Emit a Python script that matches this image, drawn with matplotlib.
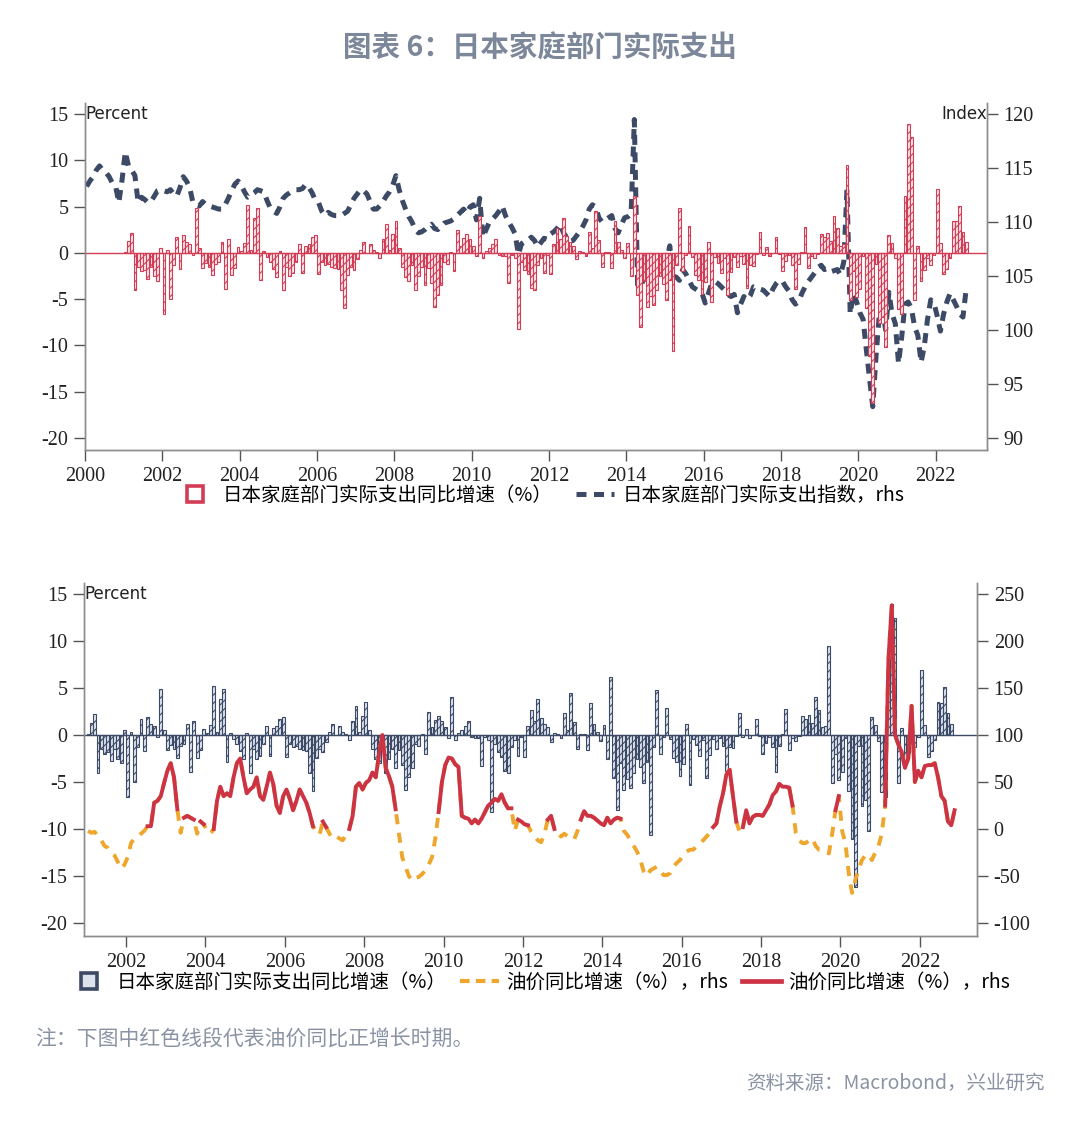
import numpy as np
import matplotlib.pyplot as plt
from matplotlib.lines import Line2D

plt.rcParams['font.family'] = ['Noto Sans CJK SC', 'DejaVu Sans']
plt.rcParams['axes.unicode_minus'] = False
plt.rcParams['hatch.linewidth'] = 0.8

# Household real spending, yoy %, monthly from 2001-01
spend_yoy = [
    0.1, 1.3, 2.2, -4.0, -1.5, -2.0, -1.8, -2.8, -1.5, -2.5, -3.0, 0.5,      # 2001
    -6.6, 0.3, -5.0, -1.3, 1.7, -1.7, 1.9, 1.2, 1.0, -0.2, 4.9, 0.5,         # 2002
    -1.6, -1.1, -1.5, -2.4, -1.2, -1.0, 1.2, -3.9, 1.5, -2.4, -1.6, 0.6,     # 2003
    0.2, 1.1, 5.2, 0.3, 3.8, 4.9, -2.9, 0.2, -0.4, -1.0, -1.7, -2.6,         # 2004
    0.2, -4.0, -1.5, -2.5, -2.2, -1.0, 1.0, -2.2, 0.7, 1.0, 1.7, 1.9,        # 2005
    -2.3, -1.0, -1.3, -1.2, -1.5, -1.6, -1.7, -4.0, -6.0, -2.4, -1.5, -1.8,  # 2006
    -0.7, 0.3, 1.2, 0.0, 1.0, 0.3, 0.1, -0.5, 1.5, 3.1, 0.3, 2.0,            # 2007
    3.5, 0.5, -1.5, -2.6, -3.0, -1.3, -4.0, -2.5, -1.5, -3.5, -1.6, -3.2,    # 2008
    -5.8, -4.5, -3.5, -1.0, -1.2, 0.1, -2.0, 2.5, 0.8, 1.6, 2.0, 1.5,        # 2009
    0.8, -0.3, 4.0, -0.5, 0.2, 0.5, 1.0, 1.5, -0.2, -0.3, -0.3, -3.3,        # 2010
    -0.2, -0.5, -8.2, -1.0, -1.8, -2.3, -3.8, -4.0, -1.3, -0.5, -2.2, -0.2,  # 2011
    -2.3, 1.0, 2.7, 1.5, 3.8, 1.8, 1.2, 0.8, -0.7, 0.2, 0.1, -0.3,           # 2012
    2.3, 0.5, 4.5, 1.4, -1.5, 0.1, 0.1, -1.6, 3.4, 1.2, 0.3, -0.6,           # 2013
    1.1, -2.5, 6.2, -4.6, -8.0, -3.0, -5.9, -4.7, -5.6, -4.0, -2.5, -3.4,    # 2014
    -5.1, -2.9, -10.6, -1.3, 4.8, -2.0, -0.2, 2.9, -0.4, -2.4, -2.9, -4.4,   # 2015
    -3.1, 1.2, -5.3, -0.4, -1.1, -2.2, -0.5, -4.6, -2.1, -0.4, -1.5, -0.3,   # 2016
    -1.2, -3.8, -1.3, -1.4, -0.1, 2.3, -0.2, 0.6, -0.3, 0.0, 1.7, -0.1,      # 2017
    -2.0, -0.9, -0.2, -1.3, -3.9, -1.2, 0.1, 2.8, -1.6, -0.3, -0.6, -0.1,    # 2018
    2.0, 1.7, 2.1, 1.3, 4.0, 2.7, 0.8, 1.0, 9.5, -5.1, -2.0, -4.8,           # 2019
    -3.9, -0.3, -6.0, -11.1, -16.2, -1.2, -7.6, -6.9, -10.2, 1.9, 1.1, -0.6, # 2020
    -6.1, -6.6, 6.2, 13.9, 12.5, -5.1, 0.7, -3.0, -1.9, -0.6, -1.3, -0.2,    # 2021
    6.9, 1.1, -2.3, -1.7, -0.5, 3.5, 3.4, 5.1, 2.3, 1.2,                     # 2022
]

# Household real spending index (rhs), monthly from 2000-01
spend_index = [
    113.3, 113.8, 114.2, 114.8, 115.2, 114.8, 114.6, 114.2, 113.6, 113.3, 111.8, 113.9,
    116.5, 115.2, 114.8, 114.3, 111.8, 112.3, 112.1, 111.8, 111.9, 112.4, 112.9, 113.0,
    112.9, 112.8, 113.0, 112.6, 112.4, 113.2, 114.2, 113.8, 113.2, 111.8, 111.6, 111.5,
    111.9, 111.6, 111.5, 111.4, 111.3, 111.2, 111.2, 111.6, 112.2, 112.9, 113.5, 113.8,
    113.4, 112.8, 112.3, 112.5, 112.7, 113.0, 112.9, 112.8, 112.0, 111.3, 111.0, 110.8,
    111.4, 112.2, 112.5, 112.7, 112.9, 113.0, 113.0, 113.1, 113.5, 113.2, 112.7, 112.0,
    111.8, 111.0, 110.6, 110.9, 110.7, 110.6, 110.6, 110.6, 110.8, 111.0, 111.6, 112.2,
    112.6, 113.0, 112.9, 112.6, 111.9, 111.2, 111.2, 111.5, 111.9, 112.4, 112.8, 113.4,
    114.3, 113.0, 112.0, 111.2, 110.5, 110.0, 109.3, 109.0, 109.1, 109.3, 109.6, 109.8,
    109.4, 109.3, 109.6, 109.9, 110.0, 110.1, 110.3, 110.6, 110.9, 111.2, 110.8, 111.4,
    111.6, 110.2, 112.2, 108.6, 109.3, 110.0, 110.3, 110.6, 111.0, 111.5, 110.6, 110.0,
    109.5, 108.9, 107.0, 108.0, 108.2, 108.3, 108.6, 108.3, 107.7, 108.1, 108.5, 108.4,
    108.9, 109.1, 109.4, 109.8, 109.0, 108.6, 108.2, 108.3, 108.7, 109.1, 109.6, 110.2,
    111.2, 111.6, 111.4, 110.4, 110.0, 110.2, 110.4, 110.6, 109.4, 109.0, 109.8, 110.4,
    110.5, 110.8, 119.5, 104.2, 104.0, 104.8, 105.3, 105.6, 106.3, 106.5, 106.2, 106.0,
    106.4, 107.8, 105.0, 104.9, 104.6, 105.6, 105.2, 104.6, 104.0, 103.8, 103.6, 103.4,
    102.5, 103.4, 104.3, 104.5, 104.3, 104.0, 103.7, 103.3, 103.1, 103.3, 101.6, 102.4,
    103.1, 102.8, 103.2, 104.0, 103.9, 103.8, 103.7, 103.4, 103.1, 103.8, 104.3, 104.6,
    104.5, 104.0, 103.6, 102.8, 102.4, 102.6, 103.4, 104.0, 104.5, 104.9, 105.3, 105.8,
    106.0, 105.6, 105.7, 105.4, 105.5, 105.6, 105.1, 106.3, 113.0, 101.5, 103.4, 102.6,
    101.6, 101.0, 98.2, 95.5, 92.9, 97.5, 101.3, 102.0, 100.0, 103.5, 101.5, 100.6,
    96.9, 99.4, 102.4, 102.6, 102.0, 100.3, 99.5, 97.0, 98.5, 101.0, 102.8, 102.5,
    101.3, 99.9, 101.5, 102.6, 103.4, 102.8, 102.2, 101.5, 101.2, 103.8,
]

# Oil price yoy %, monthly from 2001-01 (rhs of lower panel)
oil_yoy = [
    -2, -4, -3, -8, -12, -18, -20, -25, -28, -35, -42, -38,       # 2001
    -30, -15, -10, -8, -5, -2, 3, 3, 28, 30, 35, 49,              # 2002
    62, 70, 55, 21, -4, 12, 14, 12, 10, -5, 8, 5,                 # 2003
    -2, -5, 0, 30, 45, 35, 38, 35, 55, 70, 75, 55,                # 2004
    38, 42, 45, 55, 35, 31, 45, 60, 48, 25, 17, 35,               # 2005
    42, 32, 20, 30, 42, 35, 28, 17, 3, -3, -6, 8,                 # 2006
    2, -5, -10, -8, -10, -12, -6, 0, 14, 45, 49, 42,              # 2007
    49, 52, 60, 55, 80, 100, 65, 56, 45, 21, -5, -30,             # 2008
    -40, -50, -55, -52, -51, -48, -44, -38, -30, -10, 18, 50,     # 2009
    68, 76, 75, 69, 66, 14, 12, 11, 6, 10, 6, 11,                 # 2010
    18, 25, 28, 32, 30, 37, 28, 22, 22, -2, 10, 8,                # 2011
    5, 4, -3, -8, -12, -14, -5, 10, 14, 0, -4, -8,                # 2012
    -5, -8, -10, -11, -2, 10, 19, 14, 14, 12, 9, 6,               # 2013
    4, 12, 6, 10, 12, 11, -2, -6, -12, -18, -24, -33,             # 2014
    -45, -50, -44, -42, -40, -44, -49, -49, -47, -40, -36, -33,   # 2015
    -27, -24, -22, -22, -18, -15, -12, -8, -4, 2, 6, 24,          # 2016
    38, 58, 63, 35, 8, -3, 2, 20, 6, 13, 15, 15,                  # 2017
    14, 20, 26, 36, 40, 48, 45, 45, 44, 25, -4, -12,              # 2018
    -15, -15, -12, -10, -18, -22, -22, -24, -26, -5, 20, 35,      # 2019
    -2, -15, -47, -68, -54, -43, -33, -28, -27, -33, -25, -18,    # 2020
    -5, 25, 180, 238, 100, 90, 82, 65, 75, 131, 50, 62,           # 2021
    55, 67, 68, 68, 70, 55, 35, 30, 8, 4, 20,                     # 2022
]

spend_yoy = np.array(spend_yoy)
spend_index = np.array(spend_index)
oil_yoy = np.array(oil_yoy, dtype=float)

t_spend = 2001 + (np.arange(len(spend_yoy)) + 0.5) / 12
t_index = 2000 + (np.arange(len(spend_index)) + 0.5) / 12
t_oil = 2001 + (np.arange(len(oil_yoy)) + 0.5) / 12
oil_pos = np.where(oil_yoy >= 0, oil_yoy, np.nan)

RED = '#d23c55'
NAVY = '#3d4a66'
ORANGE = '#eea62c'
OILRED = '#cc3344'
SPINE = '#8c8c8c'
NUMFONT = 'Liberation Serif'

fig = plt.figure(figsize=(10.8, 11.35), dpi=100)
W, H = 1080, 1135


def box(x0, y0, x1, y1):
    return [x0 / W, 1 - y1 / H, (x1 - x0) / W, (y1 - y0) / H]


def style(ax, axr):
    for a in (ax, axr):
        a.spines['top'].set_visible(False)
        for s in ('left', 'right', 'bottom'):
            a.spines[s].set_color(SPINE)
            a.spines[s].set_linewidth(1.0)
        a.tick_params(direction='out', length=8, width=1, color='#555555',
                      labelsize=14.5, pad=4)
        for lab in a.get_xticklabels() + a.get_yticklabels():
            lab.set_fontfamily(NUMFONT)
            lab.set_color('#222222')


# ---------------- Top panel
ax1 = fig.add_axes(box(85, 103, 987, 450))
ax1.bar(t_spend, spend_yoy, width=0.072, facecolor='#fbe8eb', edgecolor=RED,
        linewidth=0.8, hatch='////', zorder=2)
ax1.axhline(0, color=RED, lw=1.0, zorder=2)
ax1.set_xlim(2000, 2023.33)
ax1.set_ylim(-21.3, 16.2)
ax1.set_yticks(np.arange(-20, 16, 5))
ax1.set_xticks(np.arange(2000, 2023, 2))
ax1r = ax1.twinx()
ax1r.plot(t_index, spend_index, color=NAVY, lw=3.6, dashes=(2.0, 1.5),
          solid_capstyle='butt', zorder=3)
ax1r.set_ylim(107.143 - 0.857 * 21.3, 107.143 + 0.857 * 16.2)
ax1r.set_yticks(np.arange(90, 121, 5))
ax1.set_zorder(ax1r.get_zorder() + 1)
ax1.patch.set_visible(False)
style(ax1, ax1r)
ax1.text(0.0, 15, 'Percent', transform=ax1.get_yaxis_transform(), fontsize=12,
         family='DejaVu Sans', va='center', ha='left', color='#222222')
ax1r.text(1.0, 120, 'Index', transform=ax1r.get_yaxis_transform(), fontsize=12,
          family='DejaVu Sans', va='center', ha='right', color='#222222')

h1 = [Line2D([], [], ls='none', marker='s', markersize=11, markerfacecolor='white',
             markeredgecolor=RED, markeredgewidth=2.6),
      Line2D([], [], color=NAVY, lw=3.6, dashes=(2.0, 1.5))]
l1 = ['日本家庭部门实际支出同比增速（%）', '日本家庭部门实际支出指数，rhs']
fig.legend(h1, l1, loc='center', bbox_to_anchor=(0.5, 1 - 495 / H), ncol=2,
           frameon=False, fontsize=14, handlelength=2.0, columnspacing=1.2,
           handletextpad=0.4)

# ---------------- Bottom panel
ax2 = fig.add_axes(box(84, 583, 977, 936))
ax2.bar(t_spend, spend_yoy, width=0.072, facecolor='#dde3ee', edgecolor=NAVY,
        linewidth=0.8, hatch='////', zorder=2)
ax2.axhline(0, color=NAVY, lw=1.0, zorder=2)
ax2.set_xlim(2000.94, 2023.44)
ax2.set_ylim(-21.38, 16.17)
ax2.set_yticks(np.arange(-20, 16, 5))
ax2.set_xticks(np.arange(2002, 2023, 2))
ax2r = ax2.twinx()
ax2r.set_ylim(100 + 10 * -21.38, 100 + 10 * 16.17)
ax2r.set_yticks(np.arange(-100, 251, 50))
ax2.set_zorder(ax2r.get_zorder() + 1)
ax2.patch.set_visible(False)
ax2.plot(t_oil, 0.1 * (oil_yoy - 100), color=ORANGE, lw=2.8, dashes=(2.6, 2.2),
         zorder=3)
ax2.plot(t_oil, 0.1 * (oil_pos - 100), color=OILRED, lw=2.8, zorder=4)
style(ax2, ax2r)
ax2.text(0.0, 15, 'Percent', transform=ax2.get_yaxis_transform(), fontsize=12,
         family='DejaVu Sans', va='center', ha='left', color='#222222')

h2 = [Line2D([], [], ls='none', marker='s', markersize=11, markerfacecolor='#dde3ee',
             markeredgecolor=NAVY, markeredgewidth=2.6),
      Line2D([], [], color=ORANGE, lw=3, dashes=(2.3, 1.5)),
      Line2D([], [], color=OILRED, lw=3.4)]
l2 = ['日本家庭部门实际支出同比增速（%）', '油价同比增速（%），rhs', '油价同比增速（%），rhs']
fig.legend(h2, l2, loc='center', bbox_to_anchor=(0.5, 1 - 982 / H), ncol=3,
           frameon=False, fontsize=14, handlelength=2.0, columnspacing=0.7,
           handletextpad=0.4)

# ---------------- Texts
fig.text(0.5, 1 - 48 / H, '图表 6：日本家庭部门实际支出', ha='center', va='center',
         fontsize=20.5, fontweight='bold', color='#7d879a')
fig.text(35 / W, 1 - 1040 / H, '注：下图中红色线段代表油价同比正增长时期。',
         ha='left', va='center', fontsize=15, color='#8a93a3')
fig.text(1045 / W, 1 - 1083 / H, '资料来源：Macrobond，兴业研究',
         ha='right', va='center', fontsize=14, color='#8a93a3')

fig.savefig('out.png', dpi=100, facecolor='white')
